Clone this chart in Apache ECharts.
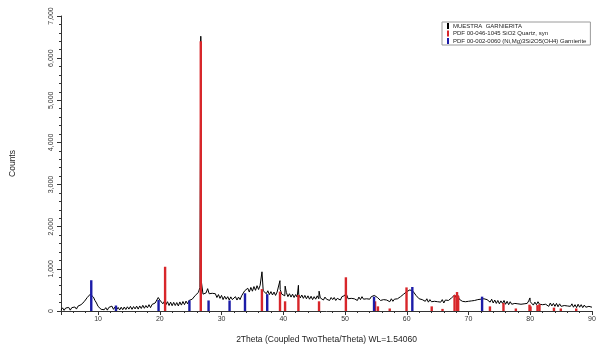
<!DOCTYPE html>
<html>
<head>
<meta charset="utf-8">
<script src="https://cdn.jsdelivr.net/npm/echarts@6/dist/echarts.min.js"></script>
<style>
  html, body { margin: 0; padding: 0; background: #fff; }
  #chart { width: 605px; height: 355px; }
</style>
</head>
<body>
<div id="chart"></div>
<script>
var scanStart = 4;
var scanStep = 0.25;
var scanCounts = [
    20, 75, 15, 70, 25, 85, 20, 80, 40, 95, 45, 115, 80, 150, 140, 220, 235, 320, 330, 400,
    360, 330, 250, 190, 110, 80, 40, 75, 30, 80, 20, 85, 60, 115, 40, 95, 30, 85, 25, 90,
    30, 95, 35, 100, 45, 110, 40, 105, 50, 115, 45, 120, 60, 135, 65, 130, 75, 150, 80, 155,
    120, 190, 230, 320, 260, 230, 170, 230, 150, 220, 130, 210, 125, 205, 130, 200, 120, 215, 140, 225,
    150, 235, 170, 250, 210, 280, 290, 370, 370, 440, 560, 680, 400, 420, 430, 530, 410, 450, 420, 400,
    410, 320, 390, 300, 370, 270, 350, 280, 340, 260, 335, 270, 290, 340, 260, 330, 270, 360, 390, 480,
    460, 540, 450, 560, 470, 580, 490, 600, 510, 610, 580, 480, 490, 410, 480, 390, 460, 380, 450, 370,
    450, 450, 510, 400, 430, 360, 440, 340, 410, 330, 400, 320, 390, 330, 400, 310, 380, 300, 370, 290,
    360, 280, 350, 270, 340, 280, 360, 290, 310, 300, 260, 330, 280, 290, 250, 320, 270, 320, 250, 300,
    320, 260, 340, 320, 370, 390, 290, 310, 300, 300, 290, 310, 250, 330, 270, 340, 280, 300, 290, 310,
    280, 340, 310, 370, 390, 320, 310, 250, 280, 270, 270, 260, 280, 220, 290, 230, 280, 260, 290, 280,
    340, 330, 400, 390, 460, 440, 500, 530, 470, 440, 370, 350, 290, 300, 270, 280, 230, 290, 210, 270,
    220, 240, 230, 230, 220, 240, 210, 270, 190, 260, 240, 250, 230, 310, 300, 380, 320, 380, 280, 290,
    230, 240, 220, 230, 230, 250, 240, 260, 250, 270, 270, 290, 280, 300, 290, 280, 270, 270, 210, 280,
    190, 260, 180, 250, 170, 240, 180, 250, 160, 230, 150, 220, 160, 180, 180, 190, 170, 170, 160, 180,
    170, 190, 180, 240, 220, 210, 140, 210, 150, 220, 160, 170, 150, 160, 160, 170, 110, 190, 120, 180,
    110, 180, 100, 170, 110, 130, 130, 140, 120, 130, 110, 170, 90, 150, 80, 160, 90, 150, 80, 140,
    90, 110, 110, 120, 90
];
// sharp reflections in the scan that fall between grid points
var scanSpikes = [
    [20.86, 290], [26.64, 6520], [36.55, 930], [39.46, 720], [40.3, 590],
    [42.45, 610], [45.8, 470], [50.14, 440], [79.95, 310]
];

// PDF 00-046-1045 SiO2 Quartz, syn
var quartzAngles = [20.86, 26.64, 36.54, 39.47, 40.29, 42.45, 45.79, 50.14, 54.87, 55.33, 57.24, 59.96, 64.04, 65.79,
    67.74, 68.14, 68.32, 73.47, 75.66, 77.67, 79.88, 80.04, 81.17, 81.49, 83.84, 84.95, 87.44];
var quartzCounts = [1050, 6400, 520, 460, 230, 380, 230, 800, 230, 110, 60, 560, 110, 50,
    380, 450, 360, 110, 190, 60, 150, 110, 140, 160, 80, 60, 60];

// PDF 00-002-0060 garnierite
var garnAngles = [8.9, 12.9, 19.8, 24.8, 27.9, 31.3, 33.8, 37.4, 54.7, 60.9, 72.2];
var garnCounts = [730, 130, 260, 250, 250, 250, 420, 400, 340, 570, 340];

var legendNames = ["MUESTRA  GARNIERITA", "PDF 00-046-1045 SiO2 Quartz, syn", "PDF 00-002-0060 (Ni,Mg)3Si2O5(OH4) Garnierite"];

function buildScan() {
    var pts = [];
    for (var i = 0; i < scanCounts.length; ++i) {
        pts.push([scanStart + i * scanStep, scanCounts[i]]);
    }
    pts = pts.concat(scanSpikes);
    pts.sort(function (a, b) { return a[0] - b[0]; });
    return pts;
}

function zip(xs, ys) {
    var out = [];
    for (var i = 0; i < xs.length; ++i) out.push([xs[i], ys[i]]);
    return out;
}

function renderStick(params, api) {
    var top = api.coord([api.value(0), api.value(1)]);
    var base = api.coord([api.value(0), 0]);
    return {
        type: 'line',
        shape: { x1: top[0], y1: top[1], x2: base[0], y2: base[1] },
        style: { stroke: api.visual('color'), lineWidth: 2.4 }
    };
}

var font = "'Liberation Sans', Arial, sans-serif";
var chart = echarts.init(document.getElementById('chart'), null, { renderer: 'canvas' });
var option = {
    animation: false,
    backgroundColor: '#fff',
    textStyle: { fontFamily: font },
    grid: { left: 60, right: 13, top: 16, bottom: 44 },
    legend: {
        data: legendNames,
        orient: 'vertical',
        left: 442,
        top: 22,
        icon: 'rect',
        itemWidth: 2,
        itemHeight: 6,
        itemGap: 1.5,
        padding: [1, 4, 1, 5],
        backgroundColor: '#fff',
        borderColor: '#9a9a9a',
        borderWidth: 1,
        borderRadius: 0,
        textStyle: { fontSize: 6, color: '#222', fontFamily: font, padding: [0, 0, 0, -1] }
    },
    xAxis: {
        type: 'value',
        min: 4,
        max: 90,
        splitNumber: 9,
        name: '2Theta (Coupled TwoTheta/Theta) WL=1.54060',
        nameLocation: 'middle',
        nameGap: 24,
        nameTextStyle: { fontSize: 8.5, color: '#222' },
        axisLine: { lineStyle: { color: '#333', width: 1 } },
        axisTick: { length: 4, lineStyle: { color: '#333' } },
        minorTick: { show: true, splitNumber: 5, length: 2, lineStyle: { color: '#333' } },
        axisLabel: {
            fontSize: 7, color: '#333', margin: 5, showMinLabel: false,
            formatter: function (v) { return v % 10 === 0 ? String(v) : ''; }
        },
        splitLine: { show: false }
    },
    yAxis: {
        type: 'value',
        min: 0,
        max: 7000,
        interval: 1000,
        name: 'Counts',
        nameLocation: 'middle',
        nameGap: 44,
        nameTextStyle: { fontSize: 8.5, color: '#222' },
        axisLine: { show: true, lineStyle: { color: '#333', width: 1 } },
        axisTick: { show: true, length: 4, lineStyle: { color: '#333' } },
        minorTick: { show: true, splitNumber: 5, length: 2, lineStyle: { color: '#333' } },
        axisLabel: {
            fontSize: 7, color: '#333', rotate: 90, margin: 6,
            formatter: function (v) { return v.toLocaleString('en-US'); }
        },
        splitLine: { show: false }
    },
    series: [
        {
            name: legendNames[0],
            type: 'line',
            data: buildScan(),
            symbol: 'none',
            color: '#000',
            lineStyle: { color: '#000', width: 1 },
            z: 2
        },
        {
            name: legendNames[1],
            type: 'custom',
            renderItem: renderStick,
            data: zip(quartzAngles, quartzCounts),
            encode: { x: 0, y: 1 },
            color: '#d8262a',
            itemStyle: { color: '#d8262a' },
            z: 3
        },
        {
            name: legendNames[2],
            type: 'custom',
            renderItem: renderStick,
            data: zip(garnAngles, garnCounts),
            encode: { x: 0, y: 1 },
            color: '#1c1ca8',
            itemStyle: { color: '#1c1ca8' },
            z: 4
        }
    ]
};
chart.setOption(option);
</script>
</body>
</html>
